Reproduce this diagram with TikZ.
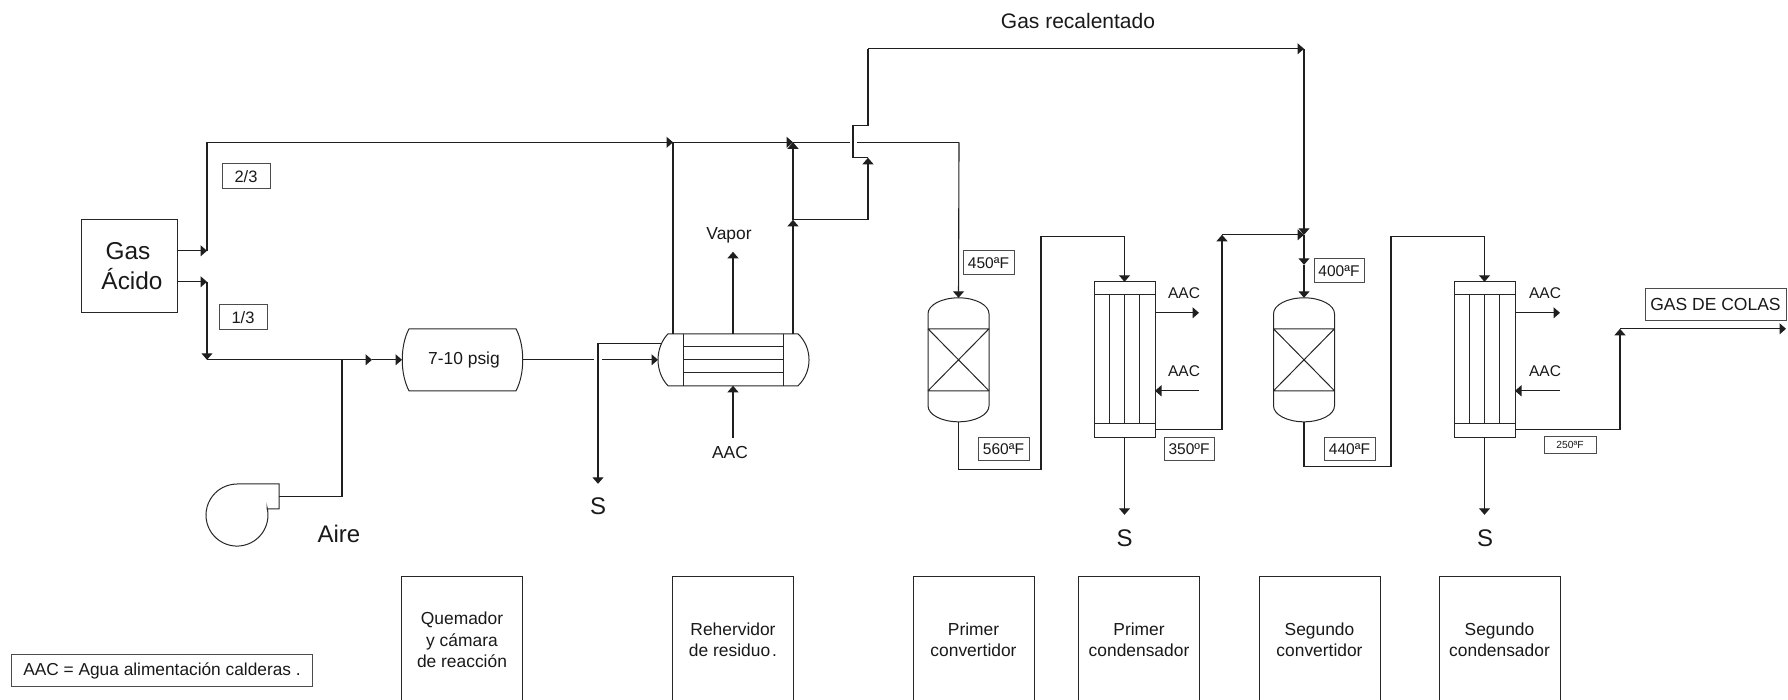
\documentclass[tikz,border=0pt]{standalone}
\usepackage{fontspec}
\setmainfont{Liberation Sans}
\usetikzlibrary{arrows.meta}
\newcommand{\fsz}[1]{\fontsize{#1pt}{#1pt}\selectfont}
\tikzset{
  pipe/.style={draw=black!88,line width=1.1pt,line join=miter},
  flow/.style={pipe,-{Triangle[width=11pt,length=6.5pt]}},
  thin outline/.style={draw=black!85,line width=1pt},
  tag/.style={draw=black!70,line width=0.9pt,rectangle,inner sep=0pt,fill=white,font=\fsz{15.5},text=black!90},
  plain/.style={inner sep=0pt,font=\fsz{17.4},text=black!90},
  small/.style={inner sep=0pt,font=\fsz{15.5},text=black!90},
  big/.style={inner sep=0pt,font=\fsz{24},text=black!90},
  hidden/.style={rectangle,inner sep=0pt,outer sep=0pt},
  unitbox/.style={hidden,minimum width=121pt,minimum height=126pt,align=center,font=\fontsize{17.4pt}{21.5pt}\selectfont,text=black!90}
}
% catalytic converter: name, centre x
\newcommand{\convertor}[2]{
  \node[hidden,minimum width=61pt,minimum height=124pt] (#1) at (#2,359) {};
  \draw[thin outline] (#2-30.5,313) arc[start angle=180,end angle=0,x radius=30.5pt,y radius=16pt]
     -- (#2+30.5,405) arc[start angle=0,end angle=-180,x radius=30.5pt,y radius=16pt] -- cycle;
  \draw[thin outline] (#2-30.5,328) -- (#2+30.5,328) (#2-30.5,390) -- (#2+30.5,390)
     (#2-30.5,328) -- (#2+30.5,390) (#2-30.5,390) -- (#2+30.5,328);
}
% vertical tube condenser: name, centre x
\newcommand{\condensador}[2]{
  \node[hidden,draw=black!85,line width=1pt,minimum width=61pt,minimum height=156pt] (#1) at (#2,359) {};
  \draw[thin outline] (#2-30.5,294) -- (#2+30.5,294) (#2-30.5,423) -- (#2+30.5,423)
     (#2-15,294) -- (#2-15,423) (#2,294) -- (#2,423) (#2+15,294) -- (#2+15,423);
}
% bottom caption box, open at the lower edge of the picture
\newcommand{\unitcaption}[3]{
  \node[unitbox] (#1) at (#2,639) {#3};
  \draw[thin outline] (#1.south west) -- (#1.north west) -- (#1.north east) -- (#1.south east);
}
\begin{document}
\begin{tikzpicture}[x=1pt,y=-1pt]
\useasboundingbox (0,0) rectangle (1788,699);
\begin{scope}[yshift=-0.8pt]

% ---- named junctions
\coordinate (g1) at (207,250);
\coordinate (g1t) at (207,141.5);
\coordinate (h1) at (673,141.5);
\coordinate (h2) at (793,141.5);
\coordinate (teeL) at (850,141.5);
\coordinate (teeR) at (857,141.5);
\coordinate (h3) at (959,141.5);
\coordinate (g2) at (207,281);
\coordinate (g2b) at (207,359);
\coordinate (airj) at (342,359);
\coordinate (airm) at (372,359);
\coordinate (airc) at (342,496);
\coordinate (blow) at (279,496);
\coordinate (d1) at (594,359);
\coordinate (d2) at (602,359);
\coordinate (s1a) at (661,343);
\coordinate (s1b) at (598,343);
\coordinate (s1c) at (598,483);
\coordinate (hb) at (793,219);
\coordinate (hc) at (868,219);
\coordinate (td) at (868,157);
\coordinate (tl) at (853,157);
\coordinate (tu) at (853,125);
\coordinate (tr) at (868,125);
\coordinate (tt) at (868,48);
\coordinate (rt) at (1304,48);
\coordinate (rm) at (1304,234);
\coordinate (rm2) at (1304,264);
\coordinate (vap) at (733,251);
\coordinate (aacin) at (733,437);
\coordinate (c1a) at (958.5,469);
\coordinate (c1b) at (1041,469);
\coordinate (c1c) at (1041,236);
\coordinate (c1d) at (1124.5,236);
\coordinate (k1a) at (1222,429);
\coordinate (k1b) at (1222,234);
\coordinate (k1s) at (1124.5,514);
\coordinate (c2a) at (1304,466);
\coordinate (c2b) at (1391,466);
\coordinate (c2c) at (1391,236);
\coordinate (c2d) at (1484.5,236);
\coordinate (k2a) at (1620,429);
\coordinate (k2b) at (1620,328);
\coordinate (k2e) at (1786,328);
\coordinate (k2s) at (1484.5,514);
\coordinate (o1) at (1199,312);
\coordinate (i1) at (1199,390);
\coordinate (o2) at (1560,312);
\coordinate (i2) at (1560,390);

% ---- equipment
\node[hidden,draw=black!85,line width=1pt,minimum width=96pt,minimum height=93pt,align=center,font=\fontsize{24.4pt}{30pt}\selectfont,text=black!90] (gas) at (129,265.5)
  {\raisebox{1pt}{Gas}\hspace*{2pt}\\\hspace*{6pt}\raisebox{1pt}{Ácido}};

\node[hidden,minimum width=121pt,minimum height=62pt,font=\fsz{17.4},text=black!90] (drum) at (462.5,359) {\hspace*{3pt}7-10 psig};
\draw[thin outline] (409,328) -- (516,328) .. controls (525,345) and (525,373) .. (516,390)
   -- (409,390) .. controls (400,373) and (400,345) .. (409,328);

\node[hidden,minimum width=151pt,minimum height=52pt] (reb) at (733.5,359) {};
\draw[thin outline] (668,333) -- (798,333) .. controls (812.7,347) and (812.7,371) .. (798,385)
   -- (668,385) .. controls (654.7,371) and (654.7,347) .. (668,333);
\draw[thin outline] (683,333) -- (683,385) (783,333) -- (783,385)
   (683,346) -- (783,346) (683,359) -- (783,359) (683,372) -- (783,372);

\convertor{conv1}{958.5}
\convertor{conv2}{1304}
\condensador{cond1}{1124.5}
\condensador{cond2}{1484.5}

% blower
\draw[thin outline] (237,483) -- (279,483) -- (279,508) -- (267,508) -- (267,506.5)
   arc[start angle=14.5,end angle=-270,radius=31pt];

% ---- connectors
\draw[flow] (gas.east |- g1) -- (g1);
\draw[pipe] (g1) -- (g1t);
\draw[flow] (g1t) -- (h1);
\draw[flow] (h1) -- (h2);
\draw[pipe] (h2) -- (teeL);
\draw[pipe] (teeR) -- (h3);
\draw[flow] (h3) -- (conv1.north);
\draw[flow] (gas.east |- g2) -- (g2);
\draw[flow] (g2) -- (g2b);
\draw[pipe] (g2b) -- (airj);
\draw[flow] (airj) -- (airm);
\draw[flow] (airm) -- (drum.west);
\draw[pipe] (blow) -- (airc) -- (airj);
\draw[pipe] (drum.east) -- (d1);
\draw[flow] (d2) -- (reb.west);
\draw[flow] (s1a) -- (s1b) -- (s1c);
\draw[pipe] (h1 |- reb.north) -- (h1);
\draw[flow] (h2 |- reb.north) -- (hb);
\draw[flow] (hb) -- (h2);
\draw[flow] (hb) -- (hc) -- (td);
\draw[pipe] (td) -- (tl) -- (tu) -- (tr) -- (tt);
\draw[flow] (tt) -- (rt);
\draw[flow] (rt) -- (rm);
\draw[flow] (rm) -- (rm2);
\draw[flow] (rm2) -- (conv2.north);
\draw[flow] (vap |- reb.north) -- (vap);
\draw[flow] (aacin) -- (vap |- reb.south);
\draw[pipe] (conv1.south) -- (c1a) -- (c1b) -- (c1c) -- (c1d);
\draw[flow] (c1d) -- (cond1.north);
\draw[flow] (cond1.east |- o1) -- (o1);
\draw[flow] (i1) -- (cond1.east |- i1);
\draw[flow] (cond1.east |- k1a) -- (k1a) -- (k1b);
\draw[flow] (k1b) -- (rm);
\draw[flow] (cond1.south) -- (k1s);
\draw[pipe] (conv2.south) -- (c2a) -- (c2b) -- (c2c) -- (c2d);
\draw[flow] (c2d) -- (cond2.north);
\draw[flow] (cond2.east |- o2) -- (o2);
\draw[flow] (i2) -- (cond2.east |- i2);
\draw[flow] (cond2.east |- k2a) -- (k2a) -- (k2b);
\draw[flow] (k2b) -- (k2e);
\draw[flow] (cond2.south) -- (k2s);

% ---- labels
\node[big] (aire) at (339,533) {Aire};
\node[big] (s1) at (598,505) {S};
\node[big] (s2) at (1124.5,537) {S};
\node[big] (s3) at (1485,537) {S};
\node[plain,font=\fsz{21}] (recal) at (1078,20.5) {Gas recalentado};
\node[plain] (vapor) at (729,235) {Vapor};
\node[plain] (aacr) at (730,452) {AAC};
\node[small] (a1) at (1184,292) {AAC};
\node[small] (a2) at (1184,370) {AAC};
\node[small] (a3) at (1545,292) {AAC};
\node[small] (a4) at (1545,370) {AAC};

\node[tag,font=\fsz{16.5},minimum width=48pt,minimum height=25pt] (t23) at (246,175.5) {2/3};
\node[tag,font=\fsz{16.5},minimum width=48pt,minimum height=25pt] (t13) at (243,316.5) {1/3};
\node[tag,minimum width=51pt,minimum height=24pt] (t450) at (988.5,262) {450ªF};
\node[tag,minimum width=51pt,minimum height=23pt] (t560) at (1003.5,448.5) {560ªF};
\node[tag,minimum width=50pt,minimum height=23pt] (t350) at (1189,448.5) {350ºF};
\node[tag,minimum width=50pt,minimum height=24pt] (t400) at (1339,270) {400ªF};
\node[tag,minimum width=51pt,minimum height=23pt] (t440) at (1349.5,448.5) {440ªF};
\node[tag,font=\fsz{10.3},minimum width=52pt,minimum height=17pt] (t250) at (1570,444.5) {250ªF};
\node[tag,font=\fsz{17.5},minimum width=141pt,minimum height=32pt] (colas) at (1715.5,304) {GAS DE COLAS};
\node[tag,font=\fsz{17.3},minimum width=301pt,minimum height=32pt] (nota) at (162,670) {AAC = Agua alimentación calderas .};

\unitcaption{u1}{462}{Quemador\\y cámara\\de reacción}
\unitcaption{u2}{733}{Rehervidor\\de residuo\hspace{2pt}.}
\unitcaption{u3}{973.5}{Primer\\convertidor}
\unitcaption{u4}{1139}{Primer\\condensador}
\unitcaption{u5}{1319.5}{Segundo\\convertidor}
\unitcaption{u6}{1499.5}{Segundo\\condensador}
\end{scope}
\end{tikzpicture}
\end{document}
